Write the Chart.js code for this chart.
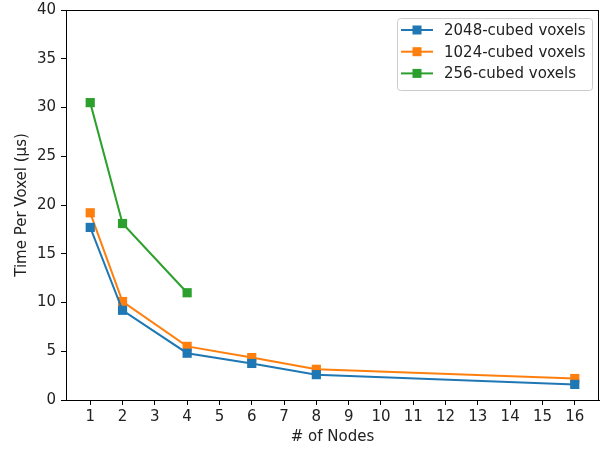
<!DOCTYPE html>
<html>
<head>
<meta charset="utf-8">
<script src="https://cdn.jsdelivr.net/npm/chart.js@4/dist/chart.umd.min.js"></script>
<style>
  html, body { margin: 0; padding: 0; background: #fff; }
  canvas { display: block; }
</style>
</head>
<body>
<canvas id="chart" width="600" height="449"></canvas>
<script>
// node counts
const nodesLarge = [1, 2, 4, 6, 8, 16];
const nodesSmall = [1, 2, 4];

// time per voxel (us)
const time2048 = [17.7, 9.2, 4.8, 3.75, 2.6, 1.6];
const time1024 = [19.2, 10.1, 5.5, 4.35, 3.15, 2.2];
const time256 = [30.5, 18.1, 11.0];

const seriesLabels = ['2048-cubed voxels', '1024-cubed voxels', '256-cubed voxels'];
const seriesColors = ['#1f77b4', '#ff7f0e', '#2ca02c'];

const xTicks = [1, 2, 3, 4, 5, 6, 7, 8, 9, 10, 11, 12, 13, 14, 15, 16];

const FONT = 'DejaVu Sans';
const FONT_SIZE = 15;
const TEXT = '#222';

function points(xs, ys) {
  return xs.map((x, i) => ({ x: x, y: ys[i] }));
}

function makeSeries(label, color, data) {
  return {
    label: label,
    data: data,
    borderColor: color,
    backgroundColor: color,
    borderWidth: 2,
    pointStyle: 'rect',
    pointRadius: 6.5,
    pointHoverRadius: 6.5,
    pointBorderWidth: 0,
    tension: 0,
    clip: false
  };
}

// frame on top/right like matplotlib spines
const framePlugin = {
  id: 'frame',
  afterDraw(chart) {
    const a = chart.chartArea;
    const ctx = chart.ctx;
    ctx.save();
    ctx.strokeStyle = '#000';
    ctx.lineWidth = 1;
    ctx.strokeRect(a.left + 0.5, a.top + 0.5, a.right - a.left - 1, a.bottom - a.top);
    ctx.restore();
  }
};

// legend box inside the top right corner
const legendPlugin = {
  id: 'insideLegend',
  afterDraw(chart) {
    const a = chart.chartArea;
    const ctx = chart.ctx;
    const w = 195, h = 72;
    const x0 = a.right - 7 - w, y0 = a.top + 8;
    ctx.save();
    ctx.beginPath();
    ctx.roundRect(x0 + 0.5, y0 + 0.5, w, h, 3);
    ctx.fillStyle = 'rgba(255,255,255,0.8)';
    ctx.fill();
    ctx.strokeStyle = '#cccccc';
    ctx.lineWidth = 1;
    ctx.stroke();

    ctx.font = FONT_SIZE + 'px "' + FONT + '"';
    ctx.textBaseline = 'middle';
    chart.data.datasets.forEach((ds, i) => {
      const cy = y0 + 12 + i * 21.7;
      ctx.strokeStyle = ds.borderColor;
      ctx.lineWidth = 2;
      ctx.beginPath();
      ctx.moveTo(x0 + 4, cy);
      ctx.lineTo(x0 + 36, cy);
      ctx.stroke();
      ctx.fillStyle = ds.backgroundColor;
      ctx.fillRect(x0 + 15.5, cy - 4.5, 9, 9);
      ctx.fillStyle = TEXT;
      ctx.fillText(ds.label, x0 + 47, cy + 1);
    });
    ctx.restore();
  }
};

new Chart(document.getElementById('chart'), {
  type: 'line',
  data: {
    datasets: [
      makeSeries(seriesLabels[0], seriesColors[0], points(nodesLarge, time2048)),
      makeSeries(seriesLabels[1], seriesColors[1], points(nodesLarge, time1024)),
      makeSeries(seriesLabels[2], seriesColors[2], points(nodesSmall, time256))
    ]
  },
  options: {
    responsive: false,
    devicePixelRatio: 1,
    animation: false,
    layout: { autoPadding: false, padding: { top: 10, right: 1, left: 0, bottom: 0 } },
    plugins: {
      legend: { display: false },
      tooltip: { enabled: false }
    },
    scales: {
      x: {
        type: 'linear',
        min: 0.25,
        max: 16.75,
        afterBuildTicks: axis => { axis.ticks = xTicks.map(v => ({ value: v })); },
        afterFit: scale => {
          scale.height = 49;
          scale.paddingLeft = 0;
          scale.paddingRight = 0;
        },
        ticks: {
          color: TEXT,
          font: { family: FONT, size: FONT_SIZE },
          padding: 3,
          maxRotation: 0,
          autoSkip: false
        },
        grid: { drawOnChartArea: false, drawTicks: true, tickLength: 5, tickColor: '#000' },
        border: { color: '#000', width: 1 },
        title: {
          display: true,
          text: '# of Nodes',
          color: TEXT,
          font: { family: FONT, size: FONT_SIZE },
          padding: { top: 0, bottom: 3 }
        }
      },
      y: {
        type: 'linear',
        min: 0,
        max: 40,
        afterFit: scale => {
          scale.width = 66;
          scale.paddingTop = 0;
          scale.paddingBottom = 0;
        },
        ticks: {
          stepSize: 5,
          color: TEXT,
          font: { family: FONT, size: FONT_SIZE },
          padding: 5
        },
        grid: { drawOnChartArea: false, drawTicks: true, tickLength: 5, tickColor: '#000' },
        border: { color: '#000', width: 1 },
        title: {
          display: true,
          text: 'Time Per Voxel (µs)',
          color: TEXT,
          font: { family: FONT, size: FONT_SIZE },
          padding: { top: 13, bottom: 0 }
        }
      }
    }
  },
  plugins: [framePlugin, legendPlugin]
});
</script>
</body>
</html>
